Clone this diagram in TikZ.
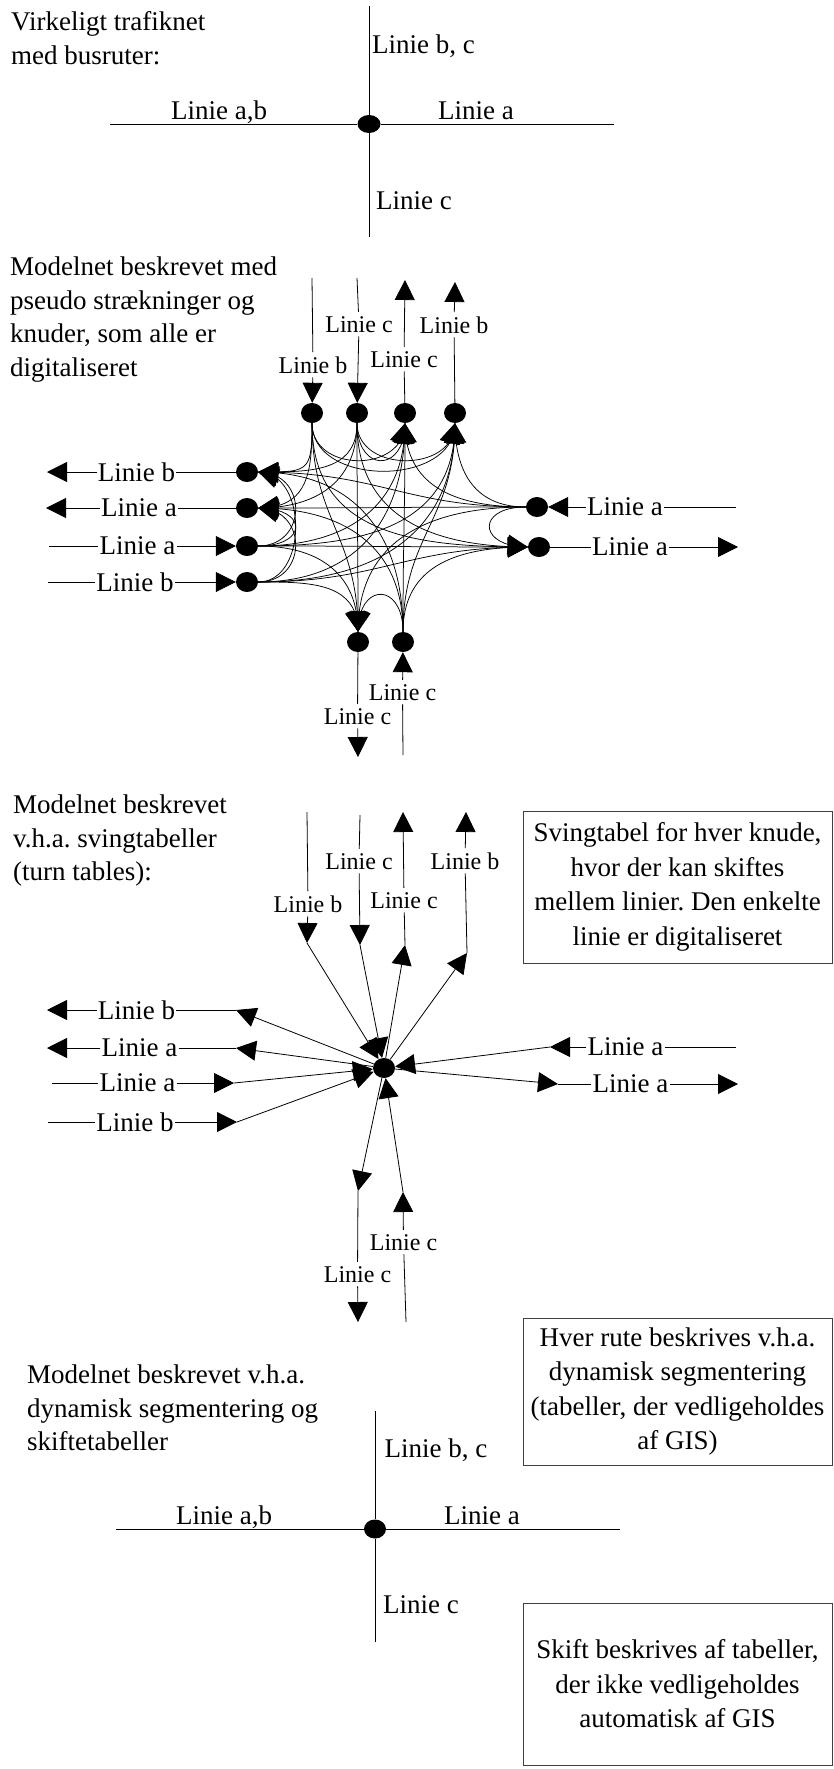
\documentclass[tikz,border=0pt]{standalone}
\usepackage{fontspec}
\setmainfont{Liberation Serif}
\usetikzlibrary{arrows.meta,bending,shapes.geometric}
\frenchspacing
\tikzset{
  ln/.style={line width=0.8pt},
  arr/.style={line width=0.8pt,-{Triangle[length=20pt,width=20pt]}},
  cv/.style={line width=0.75pt,-{Triangle[length=20pt,width=20pt,flex]},min distance=50pt,looseness=1.15},
  bdot/.style={ellipse,fill=black,minimum width=22pt,minimum height=20pt,inner sep=0pt},
  lbh/.style={font=\fontsize{27}{32}\selectfont,inner xsep=1pt,inner ysep=3pt},
  lbv/.style={font=\fontsize{24}{28}\selectfont,inner xsep=1pt,inner ysep=4pt,anchor=base},
  lbp/.style={font=\fontsize{27}{32}\selectfont,inner sep=0pt,anchor=base west},
  ttl/.style={font=\fontsize{27}{33.5}\selectfont,align=left,anchor=north west,inner sep=0pt},
  tbox/.style={draw=black!75,line width=1pt,align=center,font=\fontsize{27}{34.5}\selectfont,minimum width=309pt,inner sep=0pt}
}
\begin{document}
\begin{tikzpicture}[x=1pt,y=1pt]
\useasboundingbox (0,0) rectangle (833,-1769);

% ===== Section 1 =====
\node[ttl] (t1) at (11,-11.6) {Virkeligt trafiknet\\med busruter:};
\node[bdot,minimum width=23pt,minimum height=18pt] (X1) at (369,-124) {};
\coordinate (X1n) at (369,-6);
\coordinate (X1s) at (369,-237);
\coordinate (X1w) at (110,-124);
\coordinate (X1e) at (614,-124);
\draw[ln] (X1n) -- (X1) -- (X1s);
\draw[ln] (X1w) -- (X1) -- (X1e);
\node[lbp] (a1) at (372,-53) {Linie b, c};
\node[lbp] (a2) at (171,-119) {Linie a,b};
\node[lbp] (a3) at (438,-119) {Linie a};
\node[lbp] (a4) at (376,-209) {Linie c};

% ===== Section 2 =====
\node[ttl] (t2) at (10,-256.6) {Modelnet beskrevet med\\pseudo strækninger og\\knuder, som alle er\\digitaliseret};
\node[bdot] (T1) at (312,-413) {};
\node[bdot] (T2) at (357,-413) {};
\node[bdot] (T3) at (405,-413) {};
\node[bdot] (T4) at (455,-413) {};
\node[bdot] (L1) at (247,-472) {};
\node[bdot] (L2) at (247,-508) {};
\node[bdot] (L3) at (247,-546) {};
\node[bdot] (L4) at (247,-582) {};
\node[bdot] (R1) at (537,-507) {};
\node[bdot] (R2) at (539,-547) {};
\node[bdot] (B1) at (358,-642) {};
\node[bdot] (B2) at (403,-642) {};

\node[lbv] (lT1) at (313,-373) {Linie b};
\node[lbv] (lT2) at (359,-332) {Linie c};
\node[lbv] (lT3) at (404,-367) {Linie c};
\node[lbv] (lT4) at (454,-333) {Linie b};
\node[lbv] (lB1) at (357.5,-724) {Linie c};
\node[lbv] (lB2) at (402.5,-700) {Linie c};
\node[lbh] (lL1) at (136.5,-472) {Linie b};
\node[lbh] (lL2) at (139,-508) {Linie a};
\node[lbh] (lL3) at (137.5,-546) {Linie a};
\node[lbh] (lL4) at (135,-582) {Linie b};
\node[lbh] (lR1) at (625,-507) {Linie a};
\node[lbh] (lR2) at (630,-547) {Linie a};

\coordinate (sT1) at (312,-278);
\coordinate (sT2) at (357,-278);
\coordinate (eT3) at (405,-280);
\coordinate (eT4) at (455,-282);
\coordinate (eB1) at (358,-757);
\coordinate (sB2) at (403,-755);
\coordinate (eL1) at (47,-472);
\coordinate (eL2) at (46,-508);
\coordinate (sL3) at (49,-546);
\coordinate (sL4) at (48,-582);
\coordinate (sR1) at (736,-507);
\coordinate (eR2) at (738,-547);

\draw[ln] (sT1) -- (lT1); \draw[arr] (lT1) -- (T1);
\draw[ln] (sT2) -- (lT2); \draw[arr] (lT2) -- (T2);
\draw[ln] (T3) -- (lT3); \draw[arr] (lT3) -- (eT3);
\draw[ln] (T4) -- (lT4); \draw[arr] (lT4) -- (eT4);
\draw[ln] (B1) -- (lB1); \draw[arr] (lB1) -- (eB1);
\draw[ln] (sB2) -- (lB2); \draw[arr] (lB2) -- (B2);
\draw[ln] (L1) -- (lL1); \draw[arr] (lL1) -- (eL1);
\draw[ln] (L2) -- (lL2); \draw[arr] (lL2) -- (eL2);
\draw[ln] (sL3) -- (lL3); \draw[arr] (lL3) -- (L3);
\draw[ln] (sL4) -- (lL4); \draw[arr] (lL4) -- (L4);
\draw[ln] (sR1) -- (lR1); \draw[arr] (lR1) -- (R1);
\draw[ln] (R2) -- (lR2); \draw[arr] (lR2) -- (eR2);

\foreach \s/\o in {T1/-90,T2/-90,L3/0,L4/0,R1/180,B2/90}
  \foreach \e/\i in {T3/-90,T4/-90,L1/0,L2/0,R2/180,B1/90}
    \draw[cv] (\s) to[out=\o,in=\i] (\e);

% ===== Section 3 =====
\node[ttl] (t3) at (13,-794.6) {Modelnet beskrevet\\v.h.a. svingtabeller\\(turn tables):};
\node[tbox,minimum height=152pt] (bx1) at (677.5,-887) {Svingtabel for hver knude,\\hvor der kan skiftes\\mellem linier. Den enkelte\\linie er digitaliseret};
\node[bdot] (C) at (384,-1068) {};

\coordinate (sA1) at (307,-812);
\node[lbv] (lA1) at (308,-912) {Linie b};
\coordinate (pA1) at (307,-943);
\coordinate (sA2) at (360,-815);
\node[lbv] (lA2) at (359,-869) {Linie c};
\coordinate (pA2) at (360,-945);
\coordinate (qA3) at (405,-945);
\node[lbv] (lA3) at (404,-908) {Linie c};
\coordinate (eA3) at (403,-812);
\coordinate (qA4) at (467,-953);
\node[lbv] (lA4) at (465,-869) {Linie b};
\coordinate (eA4) at (466,-812);
\draw[ln] (sA1) -- (lA1); \draw[arr] (lA1) -- (pA1); \draw[arr] (pA1) -- (C);
\draw[ln] (sA2) -- (lA2); \draw[arr] (lA2) -- (pA2); \draw[arr] (pA2) -- (C);
\draw[arr] (C) -- (qA3); \draw[ln] (qA3) -- (lA3); \draw[arr] (lA3) -- (eA3);
\draw[arr] (C) -- (qA4); \draw[ln] (qA4) -- (lA4); \draw[arr] (lA4) -- (eA4);

\coordinate (qM1) at (236,-1010);
\node[lbh] (lM1) at (136.5,-1010) {Linie b};
\coordinate (eM1) at (47,-1010);
\coordinate (qM2) at (236,-1048);
\node[lbh] (lM2) at (139.5,-1048) {Linie a};
\coordinate (eM2) at (47,-1048);
\coordinate (sM3) at (52,-1083);
\node[lbh] (lM3) at (137.5,-1083) {Linie a};
\coordinate (pM3) at (234,-1083);
\coordinate (sM4) at (48,-1122);
\node[lbh] (lM4) at (135,-1122) {Linie b};
\coordinate (pM4) at (237,-1122);
\draw[arr] (C) -- (qM1); \draw[ln] (qM1) -- (lM1); \draw[arr] (lM1) -- (eM1);
\draw[arr] (C) -- (qM2); \draw[ln] (qM2) -- (lM2); \draw[arr] (lM2) -- (eM2);
\draw[ln] (sM3) -- (lM3); \draw[arr] (lM3) -- (pM3); \draw[arr] (pM3) -- (C);
\draw[ln] (sM4) -- (lM4); \draw[arr] (lM4) -- (pM4); \draw[arr] (pM4) -- (C);

\coordinate (sN1) at (736,-1047);
\node[lbh] (lN1) at (625.5,-1047) {Linie a};
\coordinate (pN1) at (550,-1047);
\coordinate (qN2) at (558,-1084);
\node[lbh] (lN2) at (630.5,-1084) {Linie a};
\coordinate (eN2) at (738,-1084);
\draw[ln] (sN1) -- (lN1); \draw[arr] (lN1) -- (pN1); \draw[arr] (pN1) -- (C);
\draw[arr] (C) -- (qN2); \draw[ln] (qN2) -- (lN2); \draw[arr] (lN2) -- (eN2);

\coordinate (qS1) at (358,-1191);
\node[lbv] (lS1) at (357.5,-1282) {Linie c};
\coordinate (eS1) at (358,-1322);
\coordinate (sS2) at (406,-1322);
\node[lbv] (lS2) at (403.5,-1250) {Linie c};
\coordinate (pS2) at (403,-1192);
\draw[arr] (C) -- (qS1); \draw[ln] (qS1) -- (lS1); \draw[arr] (lS1) -- (eS1);
\draw[ln] (sS2) -- (lS2); \draw[arr] (lS2) -- (pS2); \draw[arr] (pS2) -- (C);

% ===== Section 4 =====
\node[ttl] (t4) at (27,-1364.6) {Modelnet beskrevet v.h.a.\\dynamisk segmentering og\\skiftetabeller};
\node[tbox,minimum height=147pt] (bx2) at (677.5,-1391.5) {Hver rute beskrives v.h.a.\\dynamisk segmentering\\(tabeller, der vedligeholdes\\af GIS)};
\node[tbox,minimum height=162pt] (bx3) at (677.5,-1684) {Skift beskrives af tabeller,\\der ikke vedligeholdes\\automatisk af GIS};
\node[bdot,minimum width=22pt,minimum height=19pt] (X4) at (375,-1529) {};
\coordinate (X4n) at (375,-1411);
\coordinate (X4s) at (375,-1642);
\coordinate (X4w) at (116,-1529);
\coordinate (X4e) at (620,-1529);
\draw[ln] (X4n) -- (X4) -- (X4s);
\draw[ln] (X4w) -- (X4) -- (X4e);
\node[lbp] (d1) at (384.5,-1457) {Linie b, c};
\node[lbp] (d2) at (176,-1524) {Linie a,b};
\node[lbp] (d3) at (444,-1524) {Linie a};
\node[lbp] (d4) at (383,-1613) {Linie c};
\end{tikzpicture}
\end{document}
